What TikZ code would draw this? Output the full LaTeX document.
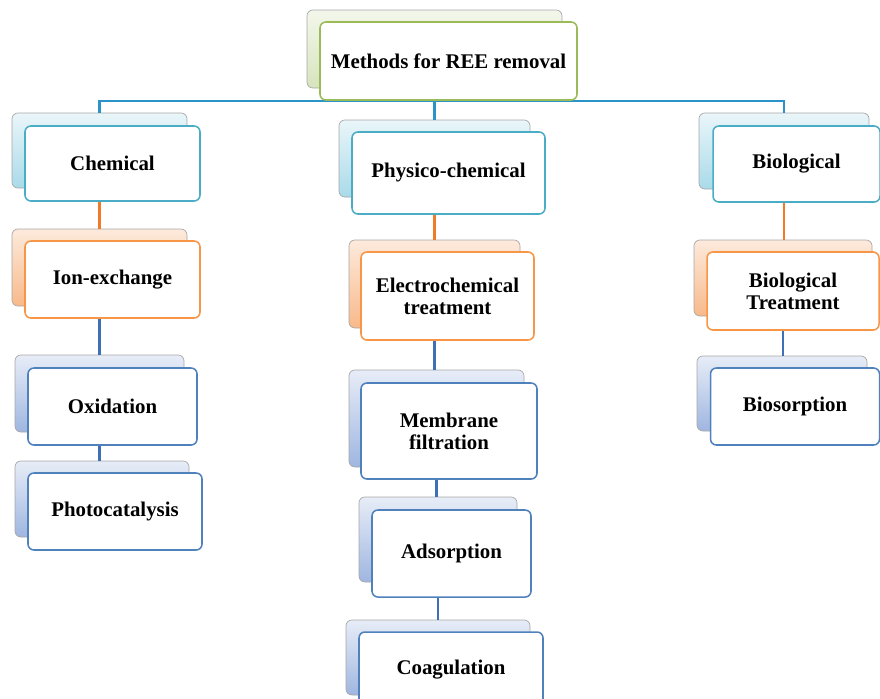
\documentclass[tikz,border=0pt]{standalone}
\usepackage{fontspec}
\setmainfont{Liberation Serif}
\usepackage{tikz}
\usetikzlibrary{positioning}
\definecolor{ReeGreen}{HTML}{9BBB59}
\definecolor{ReeGreenFill}{HTML}{D7E4BD}
\definecolor{ReeTeal}{HTML}{4BACC6}
\definecolor{ReeTealFill}{HTML}{A9DAE9}
\definecolor{ReeOrange}{HTML}{F79646}
\definecolor{ReeOrangeFill}{HTML}{F8B98A}
\definecolor{ReeBlue}{HTML}{4F81BD}
\definecolor{ReeBlueFill}{HTML}{9FB6E0}
\definecolor{TrunkBlue}{HTML}{2A93C8}
\definecolor{LinkOrange}{HTML}{F07A28}
\definecolor{LinkBlue}{HTML}{3F6FB5}

\begin{document}
\begin{tikzpicture}[x=0.03cm,y=-0.03cm,
  boxsize/.style 2 args={minimum width=#1*0.03cm,minimum height=#2*0.03cm},
  back/.style={rectangle,rounded corners=5pt,draw=black!35,line width=0.6pt,inner sep=0pt},
  front/.style={rectangle,rounded corners=5pt,fill=white,line width=1.3pt,inner sep=0pt,align=center,text=black,font=\bfseries\fontsize{17.8}{19}\selectfont},
  greenback/.style={back,top color=ReeGreenFill!30,bottom color=ReeGreenFill},
  tealback/.style={back,top color=ReeTealFill!25,bottom color=ReeTealFill},
  orangeback/.style={back,top color=ReeOrangeFill!30,bottom color=ReeOrangeFill},
  blueback/.style={back,top color=ReeBlueFill!25,bottom color=ReeBlueFill},
  link/.style={line width=2.2pt}]
\useasboundingbox (0,0) rectangle (880,698);

% back boxes
\node[greenback,boxsize={255}{78}] (topb) at (434.5,49) {};
\node[tealback,boxsize={175}{75}] (chemb) at (99.5,150.5) {};
\node[orangeback,boxsize={175}{77}] (ionb) at (99.5,267.5) {};
\node[blueback,boxsize={169}{77}] (oxb) at (99.5,393.5) {};
\node[blueback,boxsize={174}{76}] (photob) at (102,499) {};
\node[tealback,boxsize={191}{77}] (physb) at (434.5,158.5) {};
\node[orangeback,boxsize={171}{88}] (elecb) at (434.5,284) {};
\node[blueback,boxsize={175}{97}] (memb) at (436.5,418.5) {};
\node[blueback,boxsize={158}{85}] (adsb) at (438,539.5) {};
\node[blueback,boxsize={184}{75}] (coagb) at (438,657.5) {};
\node[tealback,boxsize={170}{76}] (biob) at (784,151) {};
\node[orangeback,boxsize={178}{76}] (biotb) at (783,278) {};
\node[blueback,boxsize={170}{75}] (biosb) at (782,393.5) {};

% connectors
\coordinate (bar) at (434.5,101);
\draw[link,TrunkBlue] (chemb.north) |- (bar) -| (biob.north);
\draw[link,TrunkBlue] (topb.south) -- (physb.north);
\draw[link,LinkOrange] (chemb.south) -- (ionb.north);
\draw[link,LinkBlue] (ionb.south) -- (oxb.north);
\draw[link,LinkBlue] (oxb.south) -- (oxb.south |- photob.north);
\draw[link,LinkOrange] (physb.south) -- (elecb.north);
\draw[link,LinkBlue] (elecb.south) -- (elecb.south |- memb.north);
\draw[link,LinkBlue] (memb.south) -- (memb.south |- adsb.north);
\draw[link,LinkBlue] (adsb.south) -- (adsb.south |- coagb.north);
\draw[link,LinkOrange] (biob.south) -- (biob.south |- biotb.north);
\draw[link,LinkBlue] (biotb.south) -- (biotb.south |- biosb.north);

% front boxes
\node[front,draw=ReeGreen,boxsize={257}{78}] (top) at (448.5,61) {Methods for REE removal};
\node[front,draw=ReeTeal,boxsize={175}{75}] (chem) at (112.5,163.5) {Chemical};
\node[front,draw=ReeOrange,boxsize={175}{77}] (ion) at (112.5,279.5) {Ion-exchange};
\node[front,draw=ReeBlue,boxsize={169}{77}] (ox) at (112.5,406.5) {Oxidation};
\node[front,draw=ReeBlue,boxsize={174}{77}] (photo) at (115,511.5) {Photocatalysis};
\node[front,draw=ReeTeal,boxsize={193}{82}] (phys) at (448.5,173) {Physico-chemical};
\node[front,draw=ReeOrange,boxsize={173}{88}] (elec) at (447.5,296) {Electrochemical\\treatment};
\node[front,draw=ReeBlue,boxsize={176}{96}] (mem) at (449,431) {Membrane\\filtration};
\node[front,draw=ReeBlue,boxsize={159}{87}] (ads) at (451.5,553.5) {Adsorption};
\node[front,draw=ReeBlue,boxsize={184}{75}] (coag) at (451,669.5) {Coagulation};
\node[front,draw=ReeTeal,boxsize={167}{76}] (bio) at (796.5,164) {Biological};
\node[front,draw=ReeOrange,boxsize={172}{78}] (biot) at (793,291) {Biological\\Treatment};
\node[front,draw=ReeBlue,boxsize={169}{77}] (bios) at (795,406.5) {Biosorption};
\end{tikzpicture}
\end{document}
